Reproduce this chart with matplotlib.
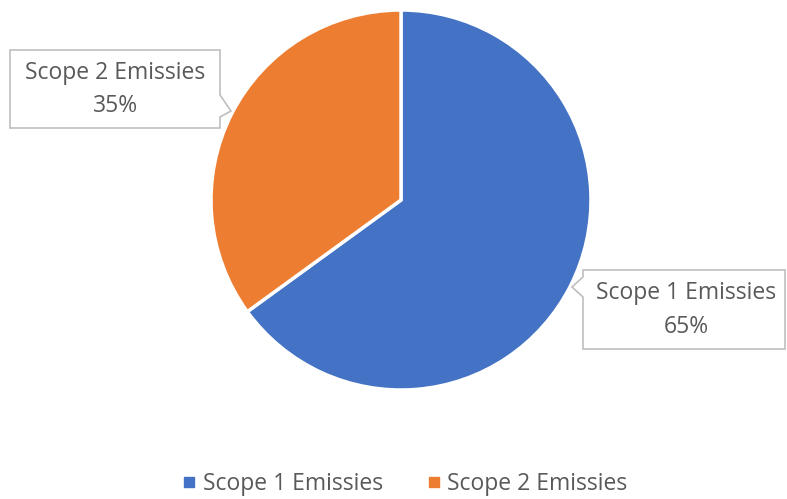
import matplotlib.pyplot as plt
from matplotlib.patches import Polygon
from matplotlib.lines import Line2D

labels = ['Scope 1 Emissies', 'Scope 2 Emissies']
values = [65, 35]
colors = ['#4472C4', '#ED7D31']

W, H = 787, 499
fig = plt.figure(figsize=(W / 100, H / 100), dpi=100)
ax = fig.add_axes([0, 0, 1, 1])

# pie in pixel coords (y flipped)
cx, cy, r = 401, H - 200, 190
ax.pie(values, colors=colors, startangle=90, counterclock=False,
       center=(cx, cy), radius=r, frame=True,
       wedgeprops=dict(edgecolor='white', linewidth=2.5))
ax.set_xlim(0, W)
ax.set_ylim(0, H)
ax.set_aspect('equal')
ax.axis('off')

txt_color = '#595959'
font = 'Open Sans'
fs = 16.5


def callout(pts, cx_t, y1, y2, name, pct):
    poly = Polygon([(x, H - y) for x, y in pts], closed=True,
                   facecolor='white', edgecolor='#BFBFBF', lw=1.2, zorder=5)
    ax.add_patch(poly)
    ax.text(cx_t, H - y1, name, ha='center', va='center', fontsize=fs,
            color=txt_color, family=font, zorder=6)
    ax.text(cx_t, H - y2, pct, ha='center', va='center', fontsize=fs,
            color=txt_color, family=font, zorder=6)


# Scope 2 label (left)
callout([(10, 50), (220, 50), (220, 95), (231, 111), (220, 117), (220, 128), (10, 128)],
        115, 73, 106, labels[1], f'{values[1]}%')
# Scope 1 label (right)
callout([(583, 270), (785, 270), (785, 349), (583, 349), (583, 297), (572, 287), (583, 277)],
        686, 293, 327, labels[0], f'{values[0]}%')

handles = [Line2D([], [], marker='s', linestyle='none', markersize=7,
                  markerfacecolor=c, markeredgecolor=c) for c in colors]
leg = ax.legend(handles, labels, loc='center', bbox_to_anchor=(404 / W, 1 - 484 / H),
                ncol=2, frameon=False, handlelength=0.8, handletextpad=0.2,
                columnspacing=1.8, prop=dict(family=font, size=fs))
for t in leg.get_texts():
    t.set_color(txt_color)

fig.savefig('out.png', dpi=100)
